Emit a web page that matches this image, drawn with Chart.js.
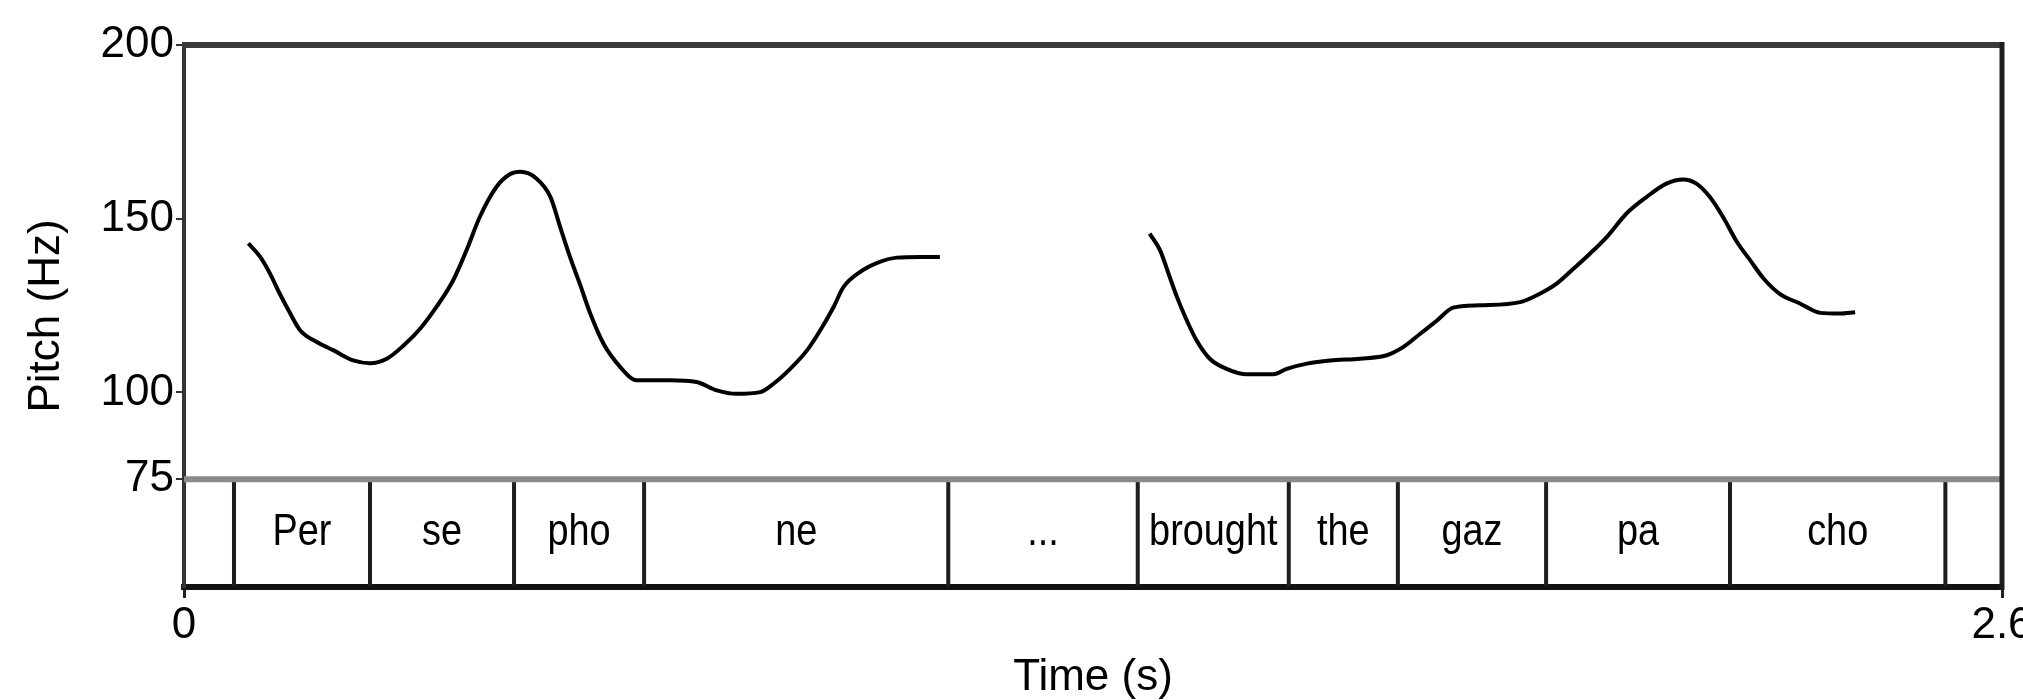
<!DOCTYPE html>
<html>
<head>
<meta charset="utf-8">
<script src="https://cdn.jsdelivr.net/npm/chart.js@4.4.0/dist/chart.umd.min.js"></script>
<style>
  html, body { margin: 0; padding: 0; background: #fff; overflow: hidden; }
  #wrap { width: 2023px; height: 700px; }
</style>
</head>
<body>
<div id="wrap"><canvas id="c" width="2023" height="700"></canvas></div>
<script>
// ---- data ----
const pitchTime1 = [0.092,0.109,0.123,0.137,0.152,0.166,0.190,0.214,0.242,0.266,0.290,0.314,0.338,0.361,0.385,0.404,0.423,0.447,0.466,0.481,0.504,0.524,0.538,0.552,0.566,0.581,0.600,0.624,0.647,0.662,0.695,0.733,0.762,0.790,0.824,0.843,0.867,0.891,0.910,0.929,0.943,0.967,0.995,1.019,1.053,1.081];
const pitchHz1   = [142.9,139.0,134.2,128.4,122.7,117.9,114.5,112.1,109.2,108.4,109.7,113.5,118.4,124.6,132.3,140.9,150.5,159.2,162.8,163.5,161.6,156.3,147.6,139.0,131.3,122.7,114.0,107.3,103.5,103.5,103.5,103.0,100.6,99.6,100.1,102.5,106.8,112.1,117.9,124.6,130.3,134.7,137.6,138.8,139.0,139.0];

const pitchTime2 = [1.381,1.396,1.408,1.420,1.432,1.448,1.467,1.491,1.520,1.558,1.577,1.606,1.639,1.682,1.720,1.744,1.768,1.792,1.815,1.853,1.911,1.939,1.963,1.987,2.011,2.035,2.063,2.092,2.120,2.144,2.163,2.182,2.201,2.221,2.240,2.259,2.282,2.311,2.340,2.368,2.390];
const pitchHz2   = [145.7,140.9,134.2,127.5,121.7,115.0,109.7,106.8,105.2,105.2,106.8,108.3,109.2,109.7,110.7,113.1,116.9,120.7,124.4,125.1,126.0,128.4,131.3,135.6,140.0,144.8,151.5,156.3,160.1,161.3,160.1,156.3,150.5,143.3,138.0,132.8,128.4,125.6,122.9,122.7,123.1];

const tierBounds = [0,0.0715,0.266,0.472,0.658,1.093,1.364,1.580,1.736,1.948,2.211,2.519,2.6];
const tierLabels = ['','Per','se','pho','ne','...','brought','the','gaz','pa','cho',''];
const tierTop = 75;

const yTicks = [75,100,150,200];
const xTicks = [0,2.6];
const yMin = 44, yMax = 200;
const xMin = 0, xMax = 2.6;

// ---- build ----
const FONT = "'Liberation Sans', Arial, sans-serif";
const TXT = '#000';

const line1 = pitchTime1.map((t,i)=>({x:t,y:pitchHz1[i]}));
const line2 = pitchTime2.map((t,i)=>({x:t,y:pitchHz2[i]}));
const tierLines = [];
tierBounds.slice(1,-1).forEach(b=>{
  tierLines.push({x:b,y:yMin},{x:b,y:tierTop},{x:b,y:null});
});
const tierTopLine = [{x:xMin,y:tierTop},{x:xMax,y:tierTop}];

const wordPlugin = {
  id:'words',
  afterDatasetsDraw(chart){
    const {ctx, scales:{x,y}} = chart;
    ctx.save();
    ctx.font = `44px ${FONT}`;
    ctx.fillStyle = TXT;
    ctx.textAlign = 'center';
    ctx.textBaseline = 'middle';
    const ym = y.getPixelForValue((tierTop+yMin)/2);
    const sx = 0.86;
    for(let i=0;i<tierLabels.length;i++){
      if(!tierLabels[i]) continue;
      const xm = x.getPixelForValue((tierBounds[i]+tierBounds[i+1])/2);
      ctx.save();
      ctx.translate(xm, ym);
      ctx.scale(sx, 1);
      ctx.fillText(tierLabels[i], 0, 0);
      ctx.restore();
    }
    ctx.restore();
  }
};
const framePlugin = {
  id:'frame',
  afterDraw(chart){
    const {ctx, chartArea:a} = chart;
    ctx.save();
    ctx.strokeStyle = '#3a3a3a';
    ctx.lineWidth = 6;
    ctx.beginPath(); ctx.moveTo(a.left-2, a.top); ctx.lineTo(a.right+2, a.top); ctx.stroke();
    ctx.strokeStyle = '#1e1e1e';
    ctx.lineWidth = 5;
    ctx.beginPath(); ctx.moveTo(a.right, a.top-3); ctx.lineTo(a.right, a.bottom+3); ctx.stroke();
    ctx.restore();
  }
};

new Chart(document.getElementById('c'), {
  type:'line',
  data:{
    datasets:[
      {data:tierTopLine, borderColor:'#8a8a8a', borderWidth:6, pointRadius:0, tension:0},
      {data:tierLines, borderColor:'#1e1e1e', borderWidth:4, pointRadius:0, tension:0, spanGaps:false},
      {data:line1, borderColor:'#000', borderWidth:4, pointRadius:0, cubicInterpolationMode:'monotone'},
      {data:line2, borderColor:'#000', borderWidth:4, pointRadius:0, cubicInterpolationMode:'monotone'}
    ]
  },
  options:{
    responsive:false,
    animation:false,
    events:[],
    layout:{padding:{left:0, top:45, right:21, bottom:0}},
    plugins:{legend:{display:false}, tooltip:{enabled:false}},
    scales:{
      x:{
        type:'linear', min:xMin, max:xMax,
        afterBuildTicks(s){ s.ticks = xTicks.map(v=>({value:v})); },
        afterFit(s){ s.height = 113; s.paddingLeft = 0; s.paddingRight = 0; },
        ticks:{ color:TXT, font:{family:FONT, size:44, lineHeight:1}, padding:6, maxRotation:0, autoSkip:false,
          callback:(v)=>String(v) },
        grid:{ drawOnChartArea:false, drawTicks:true, tickLength:11, color:'#222', lineWidth:3 },
        border:{ display:true, color:'#111', width:6 },
        title:{ display:true, text:'Time (s)', color:TXT, font:{family:FONT, size:44, lineHeight:1}, padding:{top:0,bottom:0} }
      },
      y:{
        type:'linear', min:yMin, max:yMax,
        afterBuildTicks(s){ s.ticks = yTicks.map(v=>({value:v})); },
        afterFit(s){ s.width = 184; s.paddingTop = 0; s.paddingBottom = 0; },
        ticks:{ color:TXT, font:{family:FONT, size:44, lineHeight:1}, padding:2, autoSkip:false,
          callback:(v)=>String(v) },
        grid:{ drawOnChartArea:false, drawTicks:true, tickLength:8, color:'#333', lineWidth:2 },
        border:{ display:true, color:'#333', width:4 },
        title:{ display:true, text:'Pitch (Hz)', color:TXT, font:{family:FONT, size:44, lineHeight:1}, padding:{top:25,bottom:0} }
      }
    }
  },
  plugins:[wordPlugin, framePlugin]
});
</script>
</body>
</html>
